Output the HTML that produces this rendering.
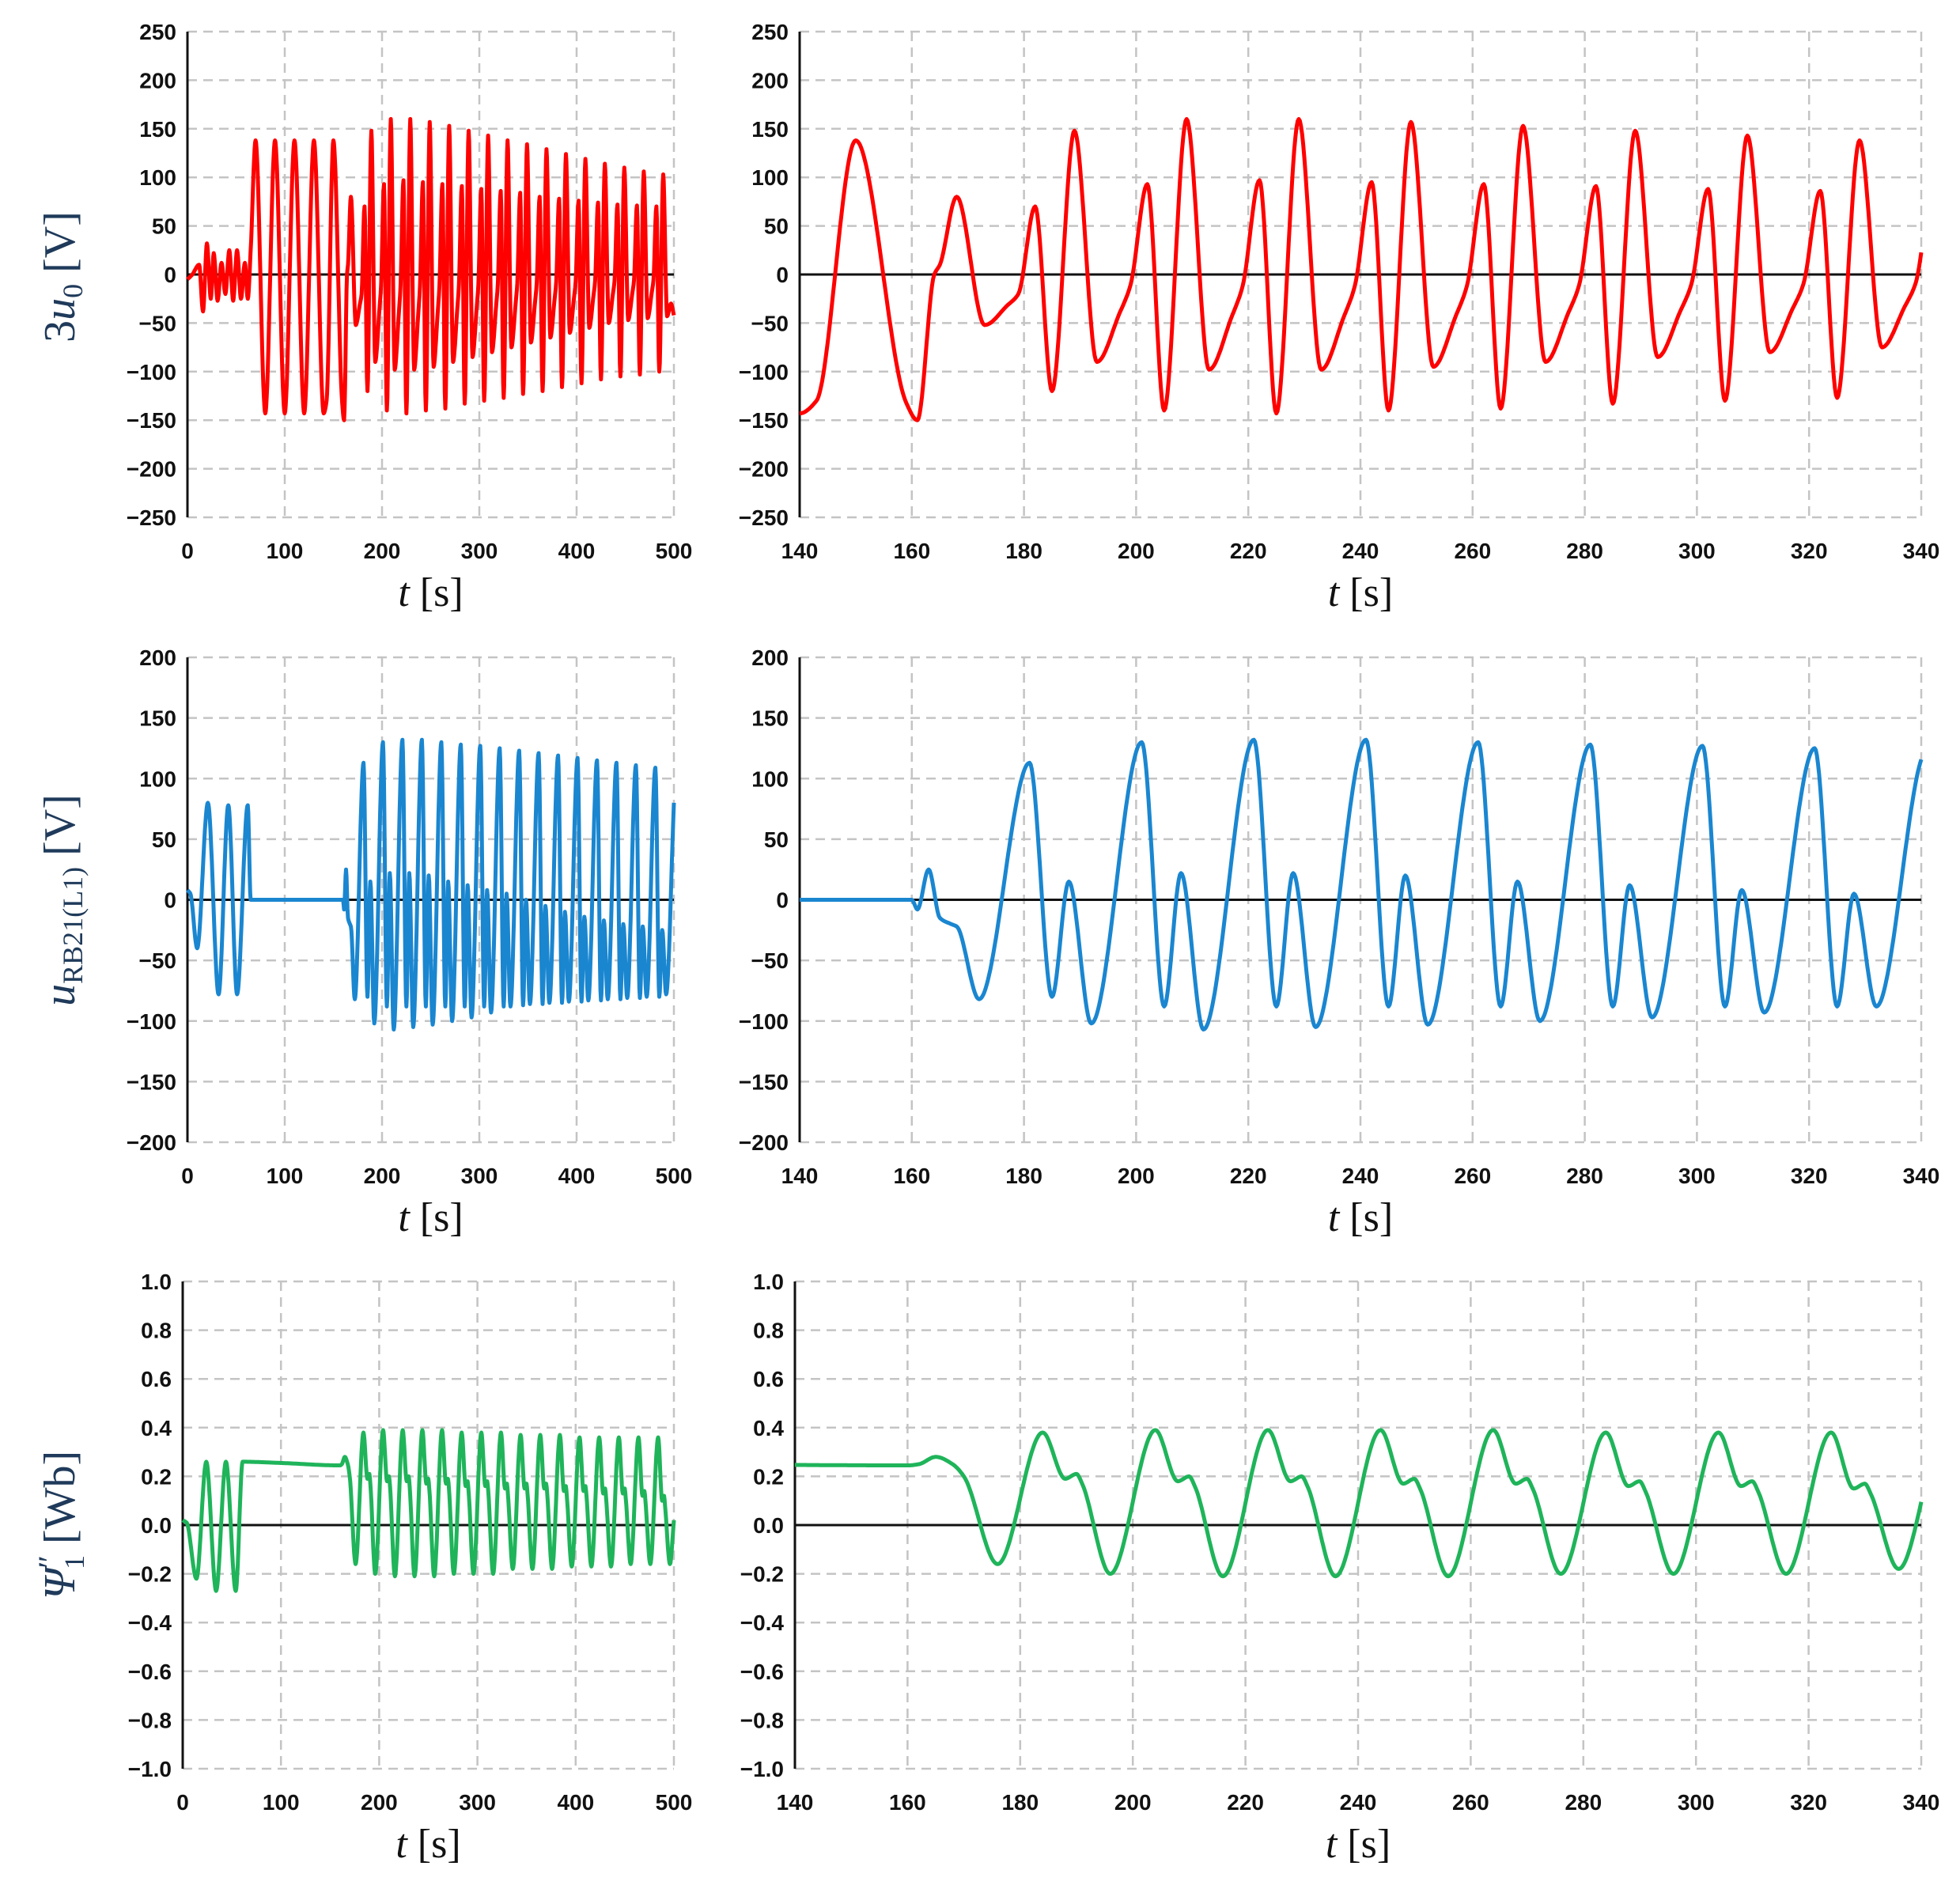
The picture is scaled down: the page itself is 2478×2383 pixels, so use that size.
<!DOCTYPE html>
<html><head><meta charset="utf-8"><style>
html,body{margin:0;padding:0;background:#fff;}
svg{display:block;}
.tick{font-family:"Liberation Sans Narrow","Liberation Sans",sans-serif;font-weight:bold;font-size:28px;fill:#111;}
.xt{font-family:"Liberation Serif",serif;font-size:52px;fill:#111;}
.yt{font-family:"Liberation Serif",serif;font-size:56px;fill:#1f3a5a;}
</style></head><body>
<svg id="fig" width="2478" height="2383" viewBox="0 0 2478 2383" xmlns="http://www.w3.org/2000/svg"></svg>
<script>
// ---------- data ----------
// 3u0 signal
const redHead=[[0,-5],[5,0],[12,10],[16,-38],[20,32],[24,-25],[27,22],[31,-27],[35,12],[39,-20],[43,25],[47,-27],[51,25],[55,-25],[59,12],[62,-25],[65,25],[70,138],[80,-143],[90,138],[100,-143],[110,138],[120,-143],[130,138],[140,-143],[143,-130],[150,138],[159,-132],[161,-150],[164,0],[165,10],[168,80],[173,-52],[177,-32],[179,-20],[182,70],[185,-120],[189,148]];
const redCycleStart=[193,213,233,253,273,293,313,333,353,373,393,413,433,453,473];
const redShallow=[-90,-98,-98,-95,-90,-85,-80,-75,-70,-65,-60,-55,-50,-47,-45];
const redSmall=[93,97,95,93,91,88,86,84,80,78,76,74,72,71,70];
const redDeep=[-140,-143,-140,-138,-133,-130,-127,-123,-120,-116,-112,-108,-105,-103,-100];
const redBig=[160,160,157,153,148,143,138,134,129,124,119,114,110,106,103];
const redTail=[[493,-43],[497,-30],[500,-42]];
// uRB21(L1) signal
const blueHead=[[0,8],[3,5],[10,-40],[21,80],[32,-78],[42,78],[51,-78],[62,78],[65,0],[160,0],[161,-8],[163,25],[165,-15],[167,-20],[168,-22],[172,-82]];
const blueCycleStart=[181,201,221,241,261,281,301,321,341,361,381,401,421,441,461];
const bluePeak=[113,130,132,132,130,128,127,125,123,121,119,117,115,113,111];
const blueMid=[-80,-88,-88,-88,-88,-88,-88,-88,-87,-86,-85,-84,-83,-82,-81];
const blueBump=[15,22,22,20,15,12,8,5,0,-5,-10,-14,-17,-20,-22];
const blueTrough=[-102,-107,-105,-103,-100,-97,-93,-88,-86,-85,-84,-83,-82,-81,-80];
const blueTail=[[481,109],[485,-80],[488,-25],[492,-78],[500,80]];
// Psi''1 signal
const greenHead=[[0,0.02],[4,0.01],[14,-0.22],[24,0.26],[34,-0.27],[44,0.26],[54,-0.27],[61,0.26],[100,0.255],[160,0.245],[162,0.25],[165,0.28],[168,0.25],[170,0.2],[176,-0.16]];
const greenCycleStart=[184,204,224,244,264,284,304,324,344,364,384,404,424,444,464,484];
const greenPeak=[0.38,0.39,0.39,0.39,0.39,0.38,0.38,0.38,0.37,0.37,0.37,0.36,0.36,0.36,0.36,0.36];
const greenShoulder=[0.19,0.18,0.18,0.17,0.17,0.16,0.16,0.15,0.15,0.15,0.14,0.14,0.13,0.13,0.12,0.1];
const greenTrough=[-0.2,-0.21,-0.21,-0.21,-0.2,-0.2,-0.2,-0.18,-0.18,-0.18,-0.17,-0.17,-0.17,-0.16,-0.16,-0.16];
const greenTail=[[500,0.02]];
const yTicksV1=[250,200,150,100,50,0,-50,-100,-150,-200,-250];
const yTicksV2=[200,150,100,50,0,-50,-100,-150,-200];
const yTicksW=[1.0,0.8,0.6,0.4,0.2,0.0,-0.2,-0.4,-0.6,-0.8,-1.0];
const xTicksFull=[0,100,200,300,400,500];
const xTicksZoom=[140,160,180,200,220,240,260,280,300,320,340];

// ---------- build series ----------
function buildRed(){const p=redHead.slice();redCycleStart.forEach((t,i)=>{const s=redShallow[i];p.push([t,s],[t+4,s*0.45],[t+6,s*0.12],[t+9,redSmall[i]],[t+12,redDeep[i]],[t+16,redBig[i]]);});return p.concat(redTail);}
function buildBlue(){const p=blueHead.slice();blueCycleStart.forEach((t,i)=>{p.push([t,bluePeak[i]],[t+4,blueMid[i]],[t+7,blueBump[i]],[t+11,blueTrough[i]]);});return p.concat(blueTail);}
function buildGreen(){const p=greenHead.slice();greenCycleStart.forEach((t,i)=>{const sh=greenShoulder[i];p.push([t,greenPeak[i]],[t+4,sh],[t+6,sh+0.02],[t+7,sh-0.02]);if(t+12<=500)p.push([t+12,greenTrough[i]]);});return p.concat(greenTail);}
const red=buildRed(),blue=buildBlue(),green=buildGreen();

function sample(pts,step){
  const n=pts.length,xs=pts.map(p=>p[0]),ys=pts.map(p=>p[1]);const d=[],m=[];
  for(let i=0;i<n-1;i++)d.push((ys[i+1]-ys[i])/(xs[i+1]-xs[i]));
  m[0]=d[0];m[n-1]=d[n-2];
  for(let i=1;i<n-1;i++){if(d[i-1]*d[i]<=0)m[i]=0;else{const w1=2*(xs[i+1]-xs[i])+(xs[i]-xs[i-1]),w2=(xs[i+1]-xs[i])+2*(xs[i]-xs[i-1]);m[i]=(w1+w2)/(w1/d[i-1]+w2/d[i]);}}
  const out=[];
  for(let i=0;i<n-1;i++){const h=xs[i+1]-xs[i];const k=Math.max(2,Math.ceil(h/step));
    for(let j=0;j<k;j++){const s=j/k,s2=s*s,s3=s2*s;
      const y=(2*s3-3*s2+1)*ys[i]+(s3-2*s2+s)*h*m[i]+(-2*s3+3*s2)*ys[i+1]+(s3-s2)*h*m[i+1];out.push([xs[i]+s*h,y]);}}
  out.push([xs[n-1],ys[n-1]]);return out;
}
const NS="http://www.w3.org/2000/svg";const svg=document.getElementById('fig');
function el(tag,attrs,parent){const e=document.createElementNS(NS,tag);for(const k in attrs)e.setAttribute(k,attrs[k]);(parent||svg).appendChild(e);return e;}

function panel(name,x0,x1,y0,y1,xmin,xmax,ymin,ymax,xt,yt,series,color,dec,step){
  const g=el('g',{});
  
  
  const sx=v=>x0+(v-xmin)/(xmax-xmin)*(x1-x0), sy=v=>y1-(v-ymin)/(ymax-ymin)*(y1-y0);
  yt.forEach(v=>{const l=el('line',{x1:x0,x2:x1,y1:sy(v),y2:sy(v),stroke:'#c4c4c4','stroke-width':2.5,'stroke-dasharray':'12,8'},g);
    
    
    const t=el('text',{x:x0-14,y:sy(v)+10,'text-anchor':'end',class:'tick'},g);t.textContent=(v<0?'\u2212':'')+Math.abs(v).toFixed(dec);
    
    });
  xt.forEach(v=>{const l=el('line',{x1:sx(v),x2:sx(v),y1:y0,y2:y1,stroke:'#c4c4c4','stroke-width':2.5,'stroke-dasharray':'12,8'},g);
    
    
    const t=el('text',{x:sx(v),y:y1+52,'text-anchor':'middle',class:'tick'},g);t.textContent=v;
    
    });
  const z=el('line',{x1:x0,x2:x1,y1:sy(0),y2:sy(0),stroke:'#111','stroke-width':3},g);
  
  
  const a=el('line',{x1:x0,x2:x0,y1:y0,y2:y1,stroke:'#111','stroke-width':3},g);
  
  
  const pts=sample(series,step).filter(p=>p[0]>=xmin&&p[0]<=xmax);
  const d=pts.map((p,i)=>(i?'L':'M')+sx(p[0]).toFixed(1)+','+sy(p[1]).toFixed(1)).join('');
  const path=el('path',{d:d,fill:'none',stroke:color,'stroke-width':5,'stroke-linejoin':'round'},g);
  
  
  const xt2=el('text',{x:(x0+x1)/2,y:y1+112,'text-anchor':'middle',class:'xt'},g);
  xt2.innerHTML='<tspan font-style="italic">t</tspan> [s]';
  
  
}
panel('u0-full-chart',237,852,40,654,0,500,-250,250,xTicksFull,yTicksV1,red,'#ff0000',0,0.5);
panel('u0-zoom-chart',1011,2429,40,654,140,340,-250,250,xTicksZoom,yTicksV1,red,'#ff0000',0,0.2);
panel('urb-full-chart',237,852,831,1444,0,500,-200,200,xTicksFull,yTicksV2,blue,'#1a86d0',0,0.5);
panel('urb-zoom-chart',1011,2429,831,1444,140,340,-200,200,xTicksZoom,yTicksV2,blue,'#1a86d0',0,0.2);
panel('psi-full-chart',231,852,1620,2236,0,500,-1,1,xTicksFull,yTicksW,green,'#1fb45a',1,0.5);
panel('psi-zoom-chart',1005,2429,1620,2236,140,340,-1,1,xTicksZoom,yTicksW,green,'#1fb45a',1,0.2);

function ytitle(name,cy,html){const t=el('text',{x:0,y:0,'text-anchor':'middle',class:'yt',transform:'translate(94,'+cy+') rotate(-90)'});t.innerHTML=html;
  
  }
ytitle('u0-y-axis-title',350,'3<tspan font-style="italic">u</tspan><tspan font-size="36" dy="10">0</tspan><tspan dy="-10"> [V]</tspan>');
ytitle('urb-y-axis-title',1138,'<tspan font-style="italic">u</tspan><tspan font-size="36" dy="10">RB21(L1)</tspan><tspan dy="-10"> [V]</tspan>');
ytitle('psi-y-axis-title',1928,'<tspan font-style="italic">Ψ</tspan><tspan font-size="40" dy="-18">″</tspan><tspan font-size="36" dx="-18" dy="30">1</tspan><tspan dy="-12"> [Wb]</tspan>');
</script>
</body></html>
